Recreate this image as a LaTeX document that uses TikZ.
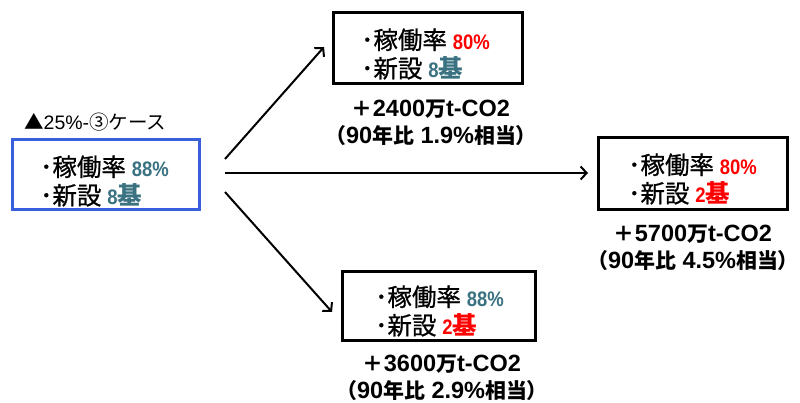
\documentclass[tikz,border=0pt]{standalone}
\usepackage{fontspec}
\setmainfont{Liberation Sans}
\newfontfamily\narrowf{Liberation Sans}[FakeStretch=0.88]
\newfontfamily\cjk{Noto Sans CJK JP}
\newfontfamily\cjks{Noto Sans CJK JP}[Scale=0.89]
\newfontfamily\cjkm{Noto Sans CJK JP}[FakeBold=0.8]
\usetikzlibrary{arrows.meta}
\definecolor{tealx}{HTML}{3B7282}
\definecolor{redx}{HTML}{FF0000}
\definecolor{bluex}{HTML}{3A5FDC}
\newcommand\J[1]{{\cjk #1}}
\newcommand\JS[1]{{\cjks #1}}
\newcommand\K[1]{{\cjkm\fontsize{24.5}{28.5}\selectfont #1}}
\newcommand\KB[1]{{\cjk\bfseries\fontsize{24.5}{28.5}\selectfont #1}}
\newcommand\T[1]{{\narrowf\bfseries\color{tealx}#1}}
\newcommand\R[1]{{\narrowf\bfseries\color{redx}#1}}
\begin{document}
\begin{tikzpicture}[x=1pt,y=-1pt,
  box/.style={draw=black,line width=3pt,rectangle,inner sep=0pt},
  txt/.style={anchor=west,inner sep=0pt,align=left,font=\fontsize{21}{28.5}\selectfont},
  lbl/.style={align=center,font=\bfseries\fontsize{23.5}{27}\selectfont},
  arr/.style={line width=2pt,-{Straight Barb[length=6pt,width=13pt,line width=2pt]}}]
\useasboundingbox[fill=white] (0,0) rectangle (800,403);

\node[anchor=west,inner sep=0pt,font=\fontsize{19.5}{20}\selectfont] (title) at (24,122) {\J{▲}25\%-\J{③ケース}};

\node[box,draw=bluex,minimum width=187pt,minimum height=70pt] (L) at (105.5,175) {};
\node[box,minimum width=189pt,minimum height=71pt] (T) at (427.5,48.5) {};
\node[box,minimum width=189pt,minimum height=72pt] (Rt) at (692.5,174) {};
\node[box,minimum width=193pt,minimum height=68pt] (B) at (438.5,306) {};

\node[txt] (Lt) at (40,181) {\K{･稼働率} \T{88\%}\\\K{･新設} \T{8\KB{基}}};
\node[txt] (Tt) at (361,54) {\K{･稼働率} \R{80\%}\\\K{･新設} \T{8\KB{基}}};
\node[txt] (Rtt) at (628,179) {\K{･稼働率} \R{80\%}\\\K{･新設} \R{2\KB{基}}};
\node[txt] (Bt) at (375,311) {\K{･稼働率} \T{88\%}\\\K{･新設} \R{2\KB{基}}};

\node[lbl] (Tl) at (431,123) {\JS{＋}2400\JS{万}t-CO2\\\JS{（}90\JS{年比} 1.9\%\JS{相当）}};
\node[lbl] (Rl) at (693,248) {\JS{＋}5700\JS{万}t-CO2\\\JS{（}90\JS{年比} 4.5\%\JS{相当）}};
\node[lbl] (Bl) at (442,378) {\JS{＋}3600\JS{万}t-CO2\\\JS{（}90\JS{年比} 2.9\%\JS{相当）}};

\coordinate (s1) at (225,159);
\coordinate (e1) at (324,47);
\coordinate (s2) at (225,173);
\coordinate (e2) at (588,173);
\coordinate (s3) at (225,192);
\coordinate (e3) at (332,312);
\draw[arr] (s1) -- (e1);
\draw[arr] (s2) -- (e2);
\draw[arr] (s3) -- (e3);
\end{tikzpicture}
\end{document}
